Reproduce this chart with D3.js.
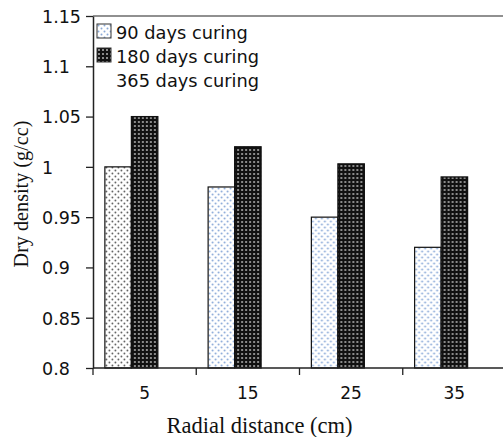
<!DOCTYPE html>
<html>
<head>
<meta charset="utf-8">
<script src="https://cdn.jsdelivr.net/npm/d3@7"></script>
<style>
  body { margin: 0; background: #fff; }
  svg { display: block; }
</style>
</head>
<body>
<div id="chart"></div>
<script>
const width = 503;
const height = 437;

const distances = ["5", "15", "25", "35"];
const seriesNames = ["90 days curing", "180 days curing", "365 days curing"];
const days90 = [1.0, 0.98, 0.95, 0.92];
const days180 = [1.05, 1.02, 1.003, 0.99];
const days365 = [null, null, null, null];
const yTicks = [0.8, 0.85, 0.9, 0.95, 1, 1.05, 1.1, 1.15];

const margin = { top: 16, left: 93, bottom: 69, right: -3 };
const plotW = width - margin.left - margin.right;
const plotH = height - margin.top - margin.bottom;

const svg = d3.select("#chart")
    .append("svg")
    .attr("width", width)
    .attr("height", height);

const defs = svg.append("defs");

// dotted white fill (dark dots) for the first 90 day bar
const dotsDark = defs.append("pattern")
    .attr("id", "dots-dark")
    .attr("patternUnits", "userSpaceOnUse")
    .attr("width", 6).attr("height", 6);
dotsDark.append("rect").attr("width", 6).attr("height", 6).attr("fill", "#fff");
dotsDark.append("circle").attr("cx", 1.5).attr("cy", 1.5).attr("r", 0.9).attr("fill", "#555");
dotsDark.append("circle").attr("cx", 4.5).attr("cy", 4.5).attr("r", 0.9).attr("fill", "#555");

// dotted white fill (blue dots)
const dotsBlue = defs.append("pattern")
    .attr("id", "dots-blue")
    .attr("patternUnits", "userSpaceOnUse")
    .attr("width", 6).attr("height", 6);
dotsBlue.append("rect").attr("width", 6).attr("height", 6).attr("fill", "#fff");
dotsBlue.append("circle").attr("cx", 1.5).attr("cy", 1.5).attr("r", 1).attr("fill", "#8aa9d8");
dotsBlue.append("circle").attr("cx", 4.5).attr("cy", 4.5).attr("r", 1).attr("fill", "#8aa9d8");

// dark grid fill for the 180 day bars
const grid = defs.append("pattern")
    .attr("id", "grid-dark")
    .attr("patternUnits", "userSpaceOnUse")
    .attr("width", 4).attr("height", 4);
grid.append("rect").attr("width", 4).attr("height", 4).attr("fill", "#111");
grid.append("rect").attr("x", 1).attr("y", 1).attr("width", 2).attr("height", 2).attr("fill", "#8a8a8a");

const g = svg.append("g")
    .attr("transform", `translate(${margin.left},${margin.top})`);

const y = d3.scaleLinear()
    .domain([0.8, 1.15])
    .range([plotH, 0]);

const x0 = d3.scaleBand()
    .domain(distances)
    .range([0, plotW])
    .paddingInner(0.23)
    .paddingOuter(0.115);

const x1 = d3.scaleBand()
    .domain(seriesNames)
    .range([0, x0.bandwidth()]);

const rows = distances.map((d, i) => ({
    distance: d,
    values: [
        { name: seriesNames[0], value: days90[i], fill: i === 0 ? "url(#dots-dark)" : "url(#dots-blue)" },
        { name: seriesNames[1], value: days180[i], fill: "url(#grid-dark)" },
        { name: seriesNames[2], value: days365[i], fill: "#fff" }
    ]
}));

const groups = g.selectAll(".group")
    .data(rows)
    .enter().append("g")
    .attr("class", "group")
    .attr("transform", d => `translate(${x0(d.distance)},0)`);

groups.selectAll("rect")
    .data(d => d.values.filter(v => v.value != null))
    .enter().append("rect")
    .attr("x", d => x1(d.name))
    .attr("y", d => y(d.value))
    .attr("width", x1.bandwidth())
    .attr("height", d => plotH - y(d.value))
    .attr("fill", d => d.fill)
    .attr("stroke", "#111")
    .attr("stroke-width", 1.2);

// top frame line
g.append("line")
    .attr("x1", 0).attr("x2", plotW)
    .attr("y1", 0).attr("y2", 0)
    .attr("stroke", "#222").attr("stroke-width", 1.2);

const tickFont = "'DejaVu Sans', sans-serif";

// y axis, labels left aligned like the original
const yAxis = g.append("g")
    .call(d3.axisLeft(y).tickValues(yTicks).tickFormat(d3.format("")).tickSize(7).tickSizeOuter(0));
yAxis.select(".domain").attr("stroke", "#222").attr("stroke-width", 1.5);
yAxis.selectAll(".tick line").attr("stroke", "#222").attr("stroke-width", 1.3);
yAxis.selectAll("text")
    .attr("x", -51)
    .attr("dy", "0.36em")
    .attr("text-anchor", "start")
    .attr("fill", "#111")
    .style("font-family", tickFont)
    .style("font-size", "17.5px");

// x axis: ticks at category boundaries
const xBoundaries = d3.range(distances.length + 1).map(i => i * plotW / distances.length);
const xAxis = g.append("g")
    .attr("transform", `translate(0,${plotH})`);
xAxis.append("line")
    .attr("x1", 0).attr("x2", plotW)
    .attr("stroke", "#222").attr("stroke-width", 1.5);
xAxis.selectAll(".xtick")
    .data(xBoundaries)
    .enter().append("line")
    .attr("x1", d => d).attr("x2", d => d)
    .attr("y1", 0).attr("y2", 7)
    .attr("stroke", "#222").attr("stroke-width", 1.3);
xAxis.selectAll(".xlabel")
    .data(distances)
    .enter().append("text")
    .attr("x", d => x0(d) + x0.bandwidth() / 2)
    .attr("y", 31)
    .attr("text-anchor", "middle")
    .attr("fill", "#111")
    .style("font-family", tickFont)
    .style("font-size", "17px")
    .text(d => d);

// axis titles
svg.append("text")
    .attr("transform", `translate(28,194) rotate(-90)`)
    .attr("text-anchor", "middle")
    .attr("fill", "#111")
    .style("font-family", "'Liberation Serif', serif")
    .style("font-size", "20.2px")
    .text("Dry density (g/cc)");

svg.append("text")
    .attr("x", 259.5)
    .attr("y", 433)
    .attr("text-anchor", "middle")
    .attr("fill", "#111")
    .style("font-family", "'Liberation Serif', serif")
    .style("font-size", "22.5px")
    .text("Radial distance (cm)");

// legend
const legendFills = ["url(#dots-blue)", "url(#grid-dark)", "none"];
const legend = svg.append("g")
    .attr("transform", "translate(97,24)");
const item = legend.selectAll(".item")
    .data(seriesNames)
    .enter().append("g")
    .attr("transform", (d, i) => `translate(0,${i * 24})`);
item.append("rect")
    .attr("width", 14).attr("height", 14)
    .attr("fill", (d, i) => legendFills[i])
    .attr("stroke", (d, i) => i < 2 ? "#333" : "none")
    .attr("stroke-width", 1);
item.append("text")
    .attr("x", 19)
    .attr("y", 14.5)
    .attr("fill", "#111")
    .style("font-family", tickFont)
    .style("font-size", "17.8px")
    .text(d => d);
</script>
</body>
</html>
